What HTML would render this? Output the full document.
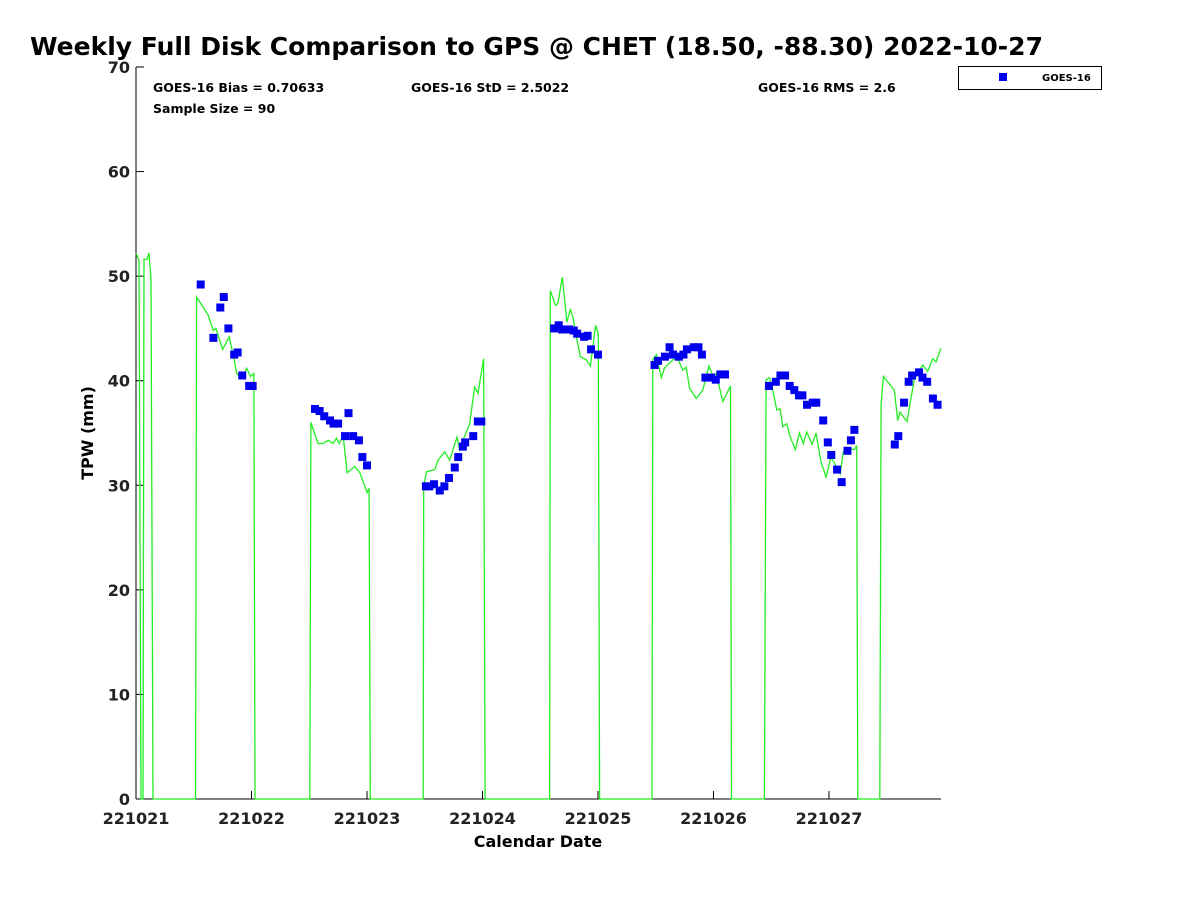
<!DOCTYPE html>
<html><head><meta charset="utf-8"><style>
body{margin:0;background:#fff;font-family:"Liberation Sans","DejaVu Sans",sans-serif}
</style></head><body>
<svg id="chart" width="1200" height="900" xmlns="http://www.w3.org/2000/svg" font-family="DejaVu Sans, Liberation Sans, sans-serif">
<rect width="1200" height="900" fill="#fff"/>
<text x="30" y="55" font-size="25" font-weight="bold">Weekly Full Disk Comparison to GPS @ CHET (18.50, -88.30) 2022-10-27</text>
<g font-size="12.5" font-weight="bold">
<text x="153" y="92">GOES-16 Bias = 0.70633</text>
<text x="411" y="92">GOES-16 StD = 2.5022</text>
<text x="758" y="92">GOES-16 RMS = 2.6</text>
<text x="153" y="113">Sample Size = 90</text>
</g>
<g>
<rect x="958.5" y="66.5" width="143" height="23" fill="#fff" stroke="#000"/>
<rect x="999" y="73" width="8" height="8" fill="#0000ee"/>
<text x="1042" y="81" font-size="10" font-weight="bold">GOES-16</text>
</g>
<g id="axes"></g>
<g id="series"></g>
<text transform="translate(93,433) rotate(-90)" text-anchor="middle" font-size="16" font-weight="bold">TPW (mm)</text>
<text x="538" y="847" text-anchor="middle" font-size="16" font-weight="bold">Calendar Date</text>
</svg>
<script>
const xTickLabels=["221021","221022","221023","221024","221025","221026","221027"];
const yTicks=[0,10,20,30,40,50,60,70];
const gpsDays=[0,0.026,0.043,0.061,0.069,0.095,0.112,0.130,0.147,
0.515,0.525,0.623,0.669,0.692,0.750,0.807,0.848,0.871,0.914,0.958,0.992,1.021,1.03,
1.505,1.514,1.577,1.620,1.664,1.707,1.736,1.759,1.793,1.828,1.894,1.938,1.981,2.001,2.018,2.029,
2.487,2.491,2.515,2.587,2.615,2.673,2.716,2.779,2.803,2.831,2.889,2.932,2.961,3.010,3.023,
3.581,3.587,3.633,3.653,3.691,3.731,3.760,3.783,3.818,3.847,3.899,3.934,3.979,4.003,4.014,
4.468,4.475,4.505,4.548,4.576,4.648,4.691,4.735,4.764,4.792,4.850,4.908,4.960,4.994,5.024,5.081,5.147,5.156,
5.441,5.456,5.484,5.513,5.548,5.577,5.600,5.634,5.664,5.709,5.744,5.779,5.807,5.854,5.888,5.932,5.975,6.018,6.067,6.096,6.125,6.176,6.220,6.240,6.250,
6.440,6.451,6.471,6.508,6.566,6.595,6.615,6.676,6.702,6.739,6.768,6.811,6.855,6.898,6.927,6.970];
const gpsTpw=[52.2,51.5,0,0,51.6,51.6,52.2,49.8,0,
0,48.0,46.3,44.8,45.0,43.0,44.2,42.2,40.7,40.2,41.2,40.4,40.7,0,
0,36.0,34.0,34.0,34.3,34.0,34.5,34.0,34.8,31.2,31.8,31.2,29.9,29.3,29.7,0,
0,30.0,31.3,31.5,32.4,33.2,32.4,34.6,33.4,34.3,35.9,39.4,38.8,42.1,0,
0,48.6,47.2,47.4,49.9,45.6,46.8,46.1,43.9,42.3,42.0,41.4,45.3,44.5,0,
0,42.0,42.5,40.3,41.2,42.0,42.1,41.0,41.3,39.3,38.3,39.1,41.4,40.5,40.7,38.0,39.5,0,
0,40.1,40.3,39.1,37.2,37.3,35.6,35.9,34.6,33.4,35.0,34.0,35.1,33.9,35.0,32.2,30.8,32.7,31.7,31.1,33.2,33.5,33.4,33.8,0,
0,37.8,40.4,39.9,39.1,36.2,37.0,36.1,37.8,40.1,40.7,41.5,40.9,42.1,41.8,43.1];
const goesDays=[0.56,0.67,0.73,0.76,0.80,0.85,0.88,0.92,0.98,1.01,
1.55,1.59,1.63,1.68,1.71,1.75,1.81,1.84,1.88,1.93,1.96,2.00,
2.51,2.54,2.58,2.63,2.67,2.71,2.76,2.79,2.83,2.85,2.92,2.96,2.99,
3.62,3.66,3.69,3.75,3.79,3.82,3.88,3.91,3.94,4.00,
4.49,4.52,4.58,4.62,4.65,4.70,4.74,4.77,4.83,4.87,4.90,4.93,4.98,5.02,5.06,5.10,
5.48,5.54,5.58,5.62,5.66,5.70,5.74,5.77,5.81,5.86,5.89,5.95,5.99,6.02,6.07,6.11,6.16,6.19,6.22,
6.57,6.60,6.65,6.69,6.72,6.78,6.81,6.85,6.90,6.94];
const goesTpw=[49.2,44.1,47.0,48.0,45.0,42.5,42.7,40.5,39.5,39.5,
37.3,37.1,36.6,36.2,35.9,35.9,34.7,36.9,34.7,34.3,32.7,31.9,
29.9,29.9,30.1,29.5,29.9,30.7,31.7,32.7,33.7,34.1,34.7,36.1,36.1,
45.0,45.3,44.9,44.9,44.8,44.5,44.2,44.3,43.0,42.5,
41.5,41.9,42.3,43.2,42.5,42.3,42.5,43.0,43.2,43.2,42.5,40.3,40.3,40.1,40.6,40.6,
39.5,39.9,40.5,40.5,39.5,39.1,38.6,38.6,37.7,37.9,37.9,36.2,34.1,32.9,31.5,30.3,33.3,34.3,35.3,
33.9,34.7,37.9,39.9,40.5,40.8,40.3,39.9,38.3,37.7];
const X0=136,X1=941,Y0=799,Y1=67,DAYS=6.97,YMAX=70;
const sx=d=>X0+d*(X1-X0)/DAYS;
const sy=v=>Y0-v*(Y0-Y1)/YMAX;
const NS="http://www.w3.org/2000/svg";
const axes=document.getElementById('axes'),ser=document.getElementById('series');
function mk(tag,at,parent){const e=document.createElementNS(NS,tag);for(const k in at)e.setAttribute(k,at[k]);parent.appendChild(e);return e;}
let e=mk('line',{x1:X0,y1:Y1,x2:X0,y2:Y0,stroke:'#000'},axes);


e=mk('line',{x1:X0,y1:Y0,x2:X1,y2:Y0,stroke:'#000'},axes);


yTicks.forEach(v=>{
 const y=sy(v);
 mk('line',{x1:X0,y1:y,x2:X0+8,y2:y,stroke:'#000'},axes);
 const t=mk('text',{x:X0-6,y:y+6,'text-anchor':'end','font-size':16,'font-weight':'bold',fill:'#222'},axes);
 t.textContent=v;
 
 
});
xTickLabels.forEach((l,i)=>{
 const x=sx(i);
 mk('line',{x1:x,y1:Y0,x2:x,y2:Y0-8,stroke:'#000'},axes);
 const t=mk('text',{x:x,y:824,'text-anchor':'middle','font-size':16,'font-weight':'bold',fill:'#222'},axes);
 t.textContent=l;
 
 
});
const pts=gpsDays.map((d,i)=>sx(d).toFixed(1)+','+sy(gpsTpw[i]).toFixed(1)).join(' ');
const pl=mk('polyline',{points:pts,fill:'none',stroke:'#22ee22','stroke-width':1.3},ser);


goesDays.forEach((d,i)=>{
 const r=mk('rect',{x:sx(d)-4,y:sy(goesTpw[i])-4,width:8,height:8,fill:'#0000ee'},ser);
 
 
});
</script>
</body></html>
